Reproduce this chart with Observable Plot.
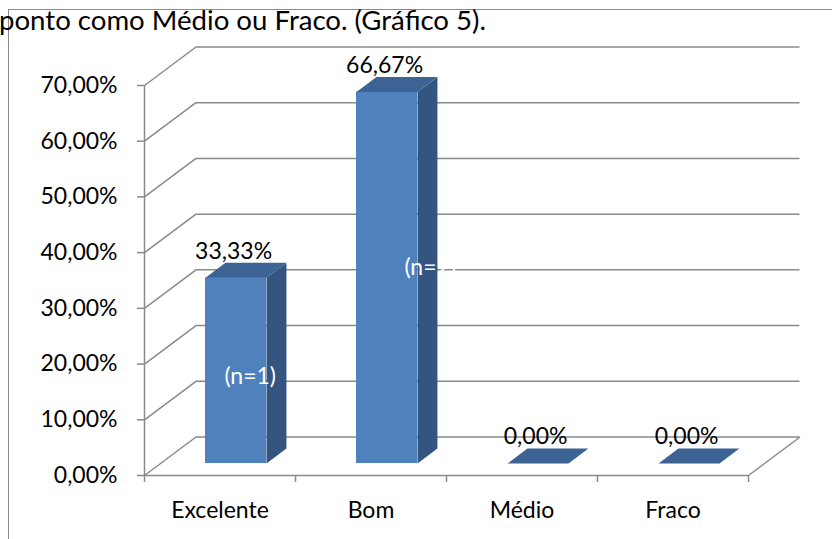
<!DOCTYPE html>
<html>
<head>
<meta charset="utf-8">
<script src="https://cdn.jsdelivr.net/npm/d3@7"></script>
<script src="https://cdn.jsdelivr.net/npm/@observablehq/plot@0.6"></script>
<style>
  html, body { margin: 0; padding: 0; background: #fff; }
  #wrap { position: relative; width: 832px; height: 539px; overflow: hidden; font-family: Lato, "Open Sans", sans-serif; }
  #frame { position: absolute; left: 8px; top: 9px; right: -5px; bottom: -5px; border-top: 1.5px solid #8a8a8a; border-left: 1.5px solid #8a8a8a; }
  #title { position: absolute; left: -1px; top: 6px; font-size: 27.6px; line-height: 27px; color: #000; white-space: nowrap; }
  #chart { position: absolute; left: 0; top: 0; }
</style>
</head>
<body>
<div id="wrap">
  <div id="frame"></div>
  <div id="chart"></div>
  <div id="title">ponto como Médio ou Fraco. (Gráfico 5).</div>
</div>
<script>
// ---- data ----
const categories = ["Excelente", "Bom", "Médio", "Fraco"];
const values = [0.3333, 0.6667, 0.0, 0.0];
const nLabels = ["(n=1)", "(n=2)", "", ""];
const yTicks = [0, 0.1, 0.2, 0.3, 0.4, 0.5, 0.6, 0.7];

// ---- 3D geometry constants (in scale units) ----
const DX = 0.341, DY = 0.0691;   // floor / wall depth
const FX = 0.106, FY = 0.0215;   // bar offset into depth
const BX = 0.132, BY = 0.0269;   // bar depth
const HW = 0.202;                // bar half width

const grid = "#8a8a8a";
const cFront = "#4f81bd", cSide = "#34557f", cTop = "#3c6394";

const bars = categories.map((c, i) => ({
  c, i, v: values[i], n: nLabels[i],
  x1: i + 0.5 - HW + FX, x2: i + 0.5 + HW + FX
}));

const sideFaces = bars.filter(b => b.v > 0).flatMap(b => [
  {z: b.c, x: b.x2, y: FY},
  {z: b.c, x: b.x2, y: b.v + FY},
  {z: b.c, x: b.x2 + BX, y: b.v + FY + BY},
  {z: b.c, x: b.x2 + BX, y: FY + BY}
]);
const topFaces = bars.flatMap(b => [
  {z: b.c, x: b.x1, y: b.v + FY},
  {z: b.c, x: b.x2, y: b.v + FY},
  {z: b.c, x: b.x2 + BX, y: b.v + FY + BY},
  {z: b.c, x: b.x1 + BX, y: b.v + FY + BY}
]);

const fmt = d => (d * 100).toFixed(2).replace(".", ",") + "%";
const FS = 23;

const plot = Plot.plot({
  width: 832,
  height: 539,
  marginLeft: 144,
  marginRight: 84,
  marginTop: 85,
  marginBottom: 64,
  style: {fontFamily: "Lato, 'Open Sans', sans-serif", background: "transparent", overflow: "visible"},
  x: {type: "linear", domain: [0, 4], axis: null},
  y: {type: "linear", domain: [0, 0.7], axis: null},
  marks: [
    Plot.ruleY(yTicks, {y: d => d + DY, x1: DX, x2: 4 + DX, stroke: grid, strokeWidth: 1.5}),
    Plot.link(yTicks, {x1: 0, y1: d => d, x2: DX, y2: d => d + DY, stroke: grid, strokeWidth: 1.5}),
    Plot.link([4], {x1: d => d, y1: 0, x2: d => d + DX, y2: DY, stroke: grid, strokeWidth: 1.5}),
    Plot.ruleY([0], {x1: 0, x2: 4, stroke: grid, strokeWidth: 1.5}),
    Plot.ruleX([0], {y1: 0, y2: 0.7, stroke: grid, strokeWidth: 1.5}),
    Plot.axisY({ticks: yTicks, label: null, tickSize: 7, tickPadding: 20, tickFormat: fmt, stroke: grid, strokeWidth: 1.5, fill: "#000", fontSize: FS}),
    Plot.axisX({ticks: [0, 1, 2, 3, 4], label: null, tickSize: 7, tickFormat: () => "", stroke: grid, strokeWidth: 1.5}),
    Plot.axisX({ticks: [0.5, 1.5, 2.5, 3.5], label: null, tickSize: 0, tickPadding: 26, tickFormat: d => categories[Math.floor(d)], fill: "#000", fontSize: FS}),
    Plot.line(sideFaces, {x: "x", y: "y", z: "z", fill: cSide, stroke: null}),
    Plot.rect(bars.filter(b => b.v > 0), {x1: "x1", x2: "x2", y1: FY, y2: d => d.v + FY, fill: cFront}),
    Plot.line(topFaces, {x: "x", y: "y", z: "z", fill: cTop, stroke: null}),
    Plot.text(bars, {x: d => d.i + 0.59, y: d => d.v + DY, text: d => fmt(d.v), fill: "#000", fontSize: FS, lineAnchor: "middle"}),
    Plot.text(bars.filter(b => b.i === 0), {x: d => d.i + 0.7, y: d => d.v / 2 + FY / 2, text: "n", fill: "#fff", fontSize: FS}),
    Plot.text(bars.filter(b => b.i === 1), {x: d => d.i + 0.7, y: d => d.v / 2 + FY / 2, text: "n", fill: "#fff", fontSize: FS, dx: 29, dy: -16})
  ]
});
document.getElementById("chart").appendChild(plot);
</script>
</body>
</html>
